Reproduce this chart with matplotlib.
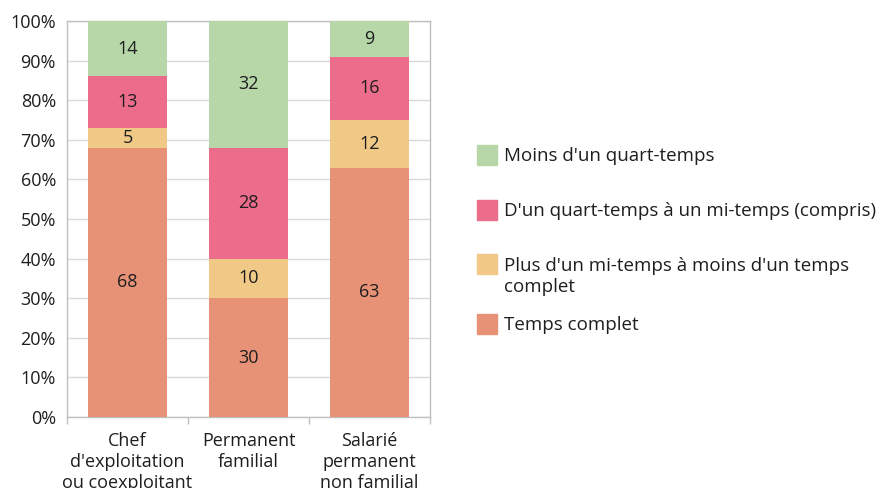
import matplotlib
matplotlib.use("Agg")
import matplotlib.pyplot as plt
from matplotlib.patches import Rectangle
import numpy as np

plt.rcParams['font.family'] = ['Open Sans', 'DejaVu Sans']

categories = ["Chef\nd'exploitation\nou coexploitant", "Permanent\nfamilial", "Salarié\npermanent\nnon familial"]
series_names = ["Temps complet",
                "Plus d'un mi-temps à moins d'un temps\ncomplet",
                "D'un quart-temps à un mi-temps (compris)",
                "Moins d'un quart-temps"]
temps_complet = [68, 30, 63]
plus_mi_temps = [5, 10, 12]
quart_mi_temps = [13, 28, 16]
moins_quart = [14, 32, 9]
colors = ["#e79277", "#f0c987", "#ec6c8c", "#b7d7a8"]

values = [temps_complet, plus_mi_temps, quart_mi_temps, moins_quart]

fig = plt.figure(figsize=(8.85, 4.88), dpi=100)
ax = fig.add_axes([0.0757, 0.1455, 0.4102, 0.8115])

x = np.arange(len(categories))
bottom = np.zeros(len(categories))
for vals, col in zip(values, colors):
    vals = np.array(vals, dtype=float)
    ax.bar(x, vals, 0.66, bottom=bottom, color=col, zorder=3)
    for xi, b, v in zip(x, bottom, vals):
        ax.text(xi, b + v / 2, f"{int(v)}", ha='center', va='center',
                fontsize=13, color='#1e1e1e', zorder=4)
    bottom += vals

ax.set_xlim(-0.5, 2.5)
ax.set_ylim(0, 100)
ax.set_yticks(range(0, 101, 10))
ax.set_yticklabels([f"{v}%" for v in range(0, 101, 10)], fontsize=13, color='#1e1e1e')
ax.yaxis.grid(True, color='#d9d9d9', lw=1, zorder=0)
ax.tick_params(axis='y', length=0, pad=8)

ax.set_xticks([-0.5, 0.5, 1.5, 2.5])
ax.set_xticklabels([])
ax.set_xticks(x, minor=True)
ax.set_xticklabels(categories, minor=True, fontsize=13, color='#1e1e1e', linespacing=1.2)
ax.tick_params(axis='x', which='major', length=5, color='#bfbfbf', width=1)
ax.tick_params(axis='x', which='minor', length=0, pad=11)

for s in ax.spines.values():
    s.set_color('#bfbfbf')
    s.set_linewidth(1)

# legend, drawn in figure pixels (y = patch centre, baseline = last text line)
W, H = 885, 488
legend_rows = [(155, 161, 3), (210, 216, 2), (264, 292, 1), (324, 330, 0)]
for y, base, idx in legend_rows:
    fig.patches.append(Rectangle((477 / W, 1 - (y + 10) / H), 20 / W, 20 / H,
                                 color=colors[idx], transform=fig.transFigure, figure=fig))
    fig.text(504 / W, 1 - base / H, series_names[idx], ha='left', va='baseline',
             fontsize=13.5, color='#1e1e1e', linespacing=1.2)

fig.savefig("out.png", dpi=100)
